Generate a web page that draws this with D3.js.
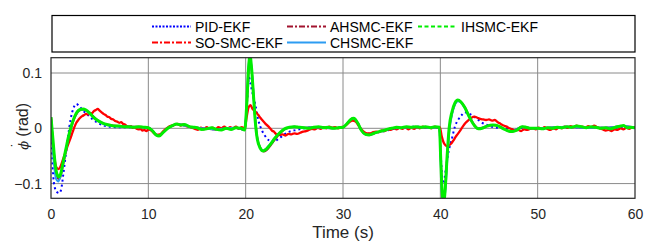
<!DOCTYPE html>
<html>
<head>
<meta charset="utf-8">
<title>phi dot</title>
<style>
  body { margin: 0; background: #fff; }
  text { font-family: "Liberation Sans", Arial, sans-serif; }
</style>
</head>
<body>
<svg class="chart"></svg>
<script src="https://cdn.jsdelivr.net/npm/d3@7"></script>
<script>
// ---- data: [time (s), phi dot (rad)] ----
const xTicks = [0, 10, 20, 30, 40, 50, 60]
const yTicks = [-0.1, 0, 0.1]
const seriesNames = ["PID-EKF", "SO-SMC-EKF", "AHSMC-EKF", "CHSMC-EKF", "IHSMC-EKF"]

const pid = [[0,0.02],[0.1,-0.04],[0.25,-0.09],[0.4,-0.108],[0.6,-0.115],[0.85,-0.117],[1.05,-0.11],[1.25,-0.085],[1.5,-0.05],[1.75,-0.015],[2.0,0.015],[2.3,0.036],[2.6,0.044],[2.9,0.04],[3.3,0.032],[3.8,0.024],[4.3,0.016],[4.8,0.01],[5.4,0.005],[6,0.003],[7,0.002],[8,0.002],[9,0.002],[10,0.001],[10.4,-0.004],[10.8,-0.011],[11.1,-0.013],[11.5,-0.007],[12,0.0],[12.5,0.005],[12.9,0.007],[13.5,0.006],[14.2,0.003],[15,0.001],[16,-0.001],[17,-0.002],[18,0.0],[19,0.0],[19.9,-0.002],[20.15,0.05],[20.35,0.092],[20.5,0.08],[20.75,0.06],[21.0,0.042],[21.3,0.015],[21.65,-0.003],[22.0,-0.014],[22.4,-0.022],[22.8,-0.025],[23.3,-0.02],[23.9,-0.012],[24.5,-0.006],[25.2,-0.003],[26,0.0],[27,0.002],[28,0.001],[29,0.001],[30,0.002],[30.4,0.008],[30.8,0.015],[31.1,0.017],[31.5,0.01],[31.9,-0.003],[32.3,-0.009],[32.8,-0.01],[33.3,-0.008],[34,-0.006],[34.7,-0.003],[35.5,0.0],[36.5,0.002],[37.5,0.003],[38.5,0.002],[39.5,0.002],[39.9,0.002],[40.05,-0.05],[40.2,-0.09],[40.35,-0.1],[40.55,-0.075],[40.85,-0.042],[41.2,-0.018],[41.5,0.003],[41.85,0.016],[42.2,0.024],[42.5,0.029],[42.9,0.027],[43.3,0.023],[43.7,0.018],[44.3,0.01],[44.8,0.006],[45.5,0.002],[46.5,0.0],[47.5,-0.002],[48.5,0.001],[50,0.0],[52,0.001],[54,0.002],[56,0.001],[58,0.001],[60,0.001]]

const soSmc = [[0,0.02],[0.2,-0.03],[0.4,-0.06],[0.6,-0.072],[0.8,-0.074],[1.0,-0.068],[1.2,-0.058],[1.4,-0.048],[1.6,-0.037],[1.8,-0.027],[2.0,-0.018],[2.2,-0.008],[2.4,0.002],[2.6,0.01],[2.8,0.015],[3.0,0.019],[3.2,0.022],[3.4,0.024],[3.6,0.026],[3.8,0.025],[4.0,0.028],[4.2,0.027],[4.4,0.031],[4.6,0.033],[4.8,0.035],[5.0,0.032],[5.2,0.029],[5.4,0.026],[5.6,0.024],[5.8,0.021],[6.0,0.02],[6.2,0.017],[6.4,0.016],[6.6,0.013],[6.8,0.012],[7.0,0.01],[7.2,0.011],[7.4,0.008],[7.6,0.007],[7.8,0.004],[8.0,0.003],[8.2,0.004],[8.4,0.001],[8.6,0.002],[8.8,-0.001],[9.0,-0.002],[9.2,-0.001],[9.4,-0.004],[9.6,-0.003],[9.8,-0.005],[10.0,-0.002],[10.3,-0.004],[10.6,-0.009],[10.9,-0.012],[11.2,-0.011],[11.5,-0.006],[11.8,-0.001],[12.1,0.003],[12.4,0.005],[12.7,0.006],[13.0,0.008],[13.3,0.005],[13.6,0.007],[13.9,0.004],[14.2,0.003],[14.5,0.001],[14.8,-0.001],[15.1,-0.003],[15.4,0.001],[15.7,-0.002],[16.0,0.002],[16.3,-0.001],[16.6,0.001],[16.9,-0.002],[17.2,0.002],[17.5,0.0],[17.8,0.003],[18.1,-0.001],[18.4,0.002],[18.7,0.0],[19.0,0.003],[19.3,-0.001],[19.6,0.002],[19.9,0.0],[20.1,0.02],[20.3,0.038],[20.5,0.042],[20.7,0.035],[20.9,0.032],[21.1,0.028],[21.3,0.024],[21.5,0.019],[21.7,0.015],[21.9,0.011],[22.1,0.007],[22.3,0.004],[22.5,0.0],[22.7,-0.004],[22.9,-0.006],[23.1,-0.01],[23.3,-0.012],[23.5,-0.012],[23.8,-0.011],[24.1,-0.013],[24.4,-0.01],[24.7,-0.011],[25.0,-0.009],[25.3,-0.01],[25.6,-0.008],[25.9,-0.006],[26.2,-0.005],[26.5,-0.003],[26.8,-0.001],[27.1,-0.002],[27.4,0.001],[27.7,-0.001],[28.0,0.002],[28.3,0.0],[28.6,0.003],[28.9,0.001],[29.2,0.002],[29.5,0.0],[29.8,0.002],[30.1,0.003],[30.4,0.007],[30.7,0.012],[31.0,0.014],[31.3,0.012],[31.6,0.005],[31.9,-0.002],[32.2,-0.007],[32.5,-0.009],[32.8,-0.009],[33.1,-0.007],[33.4,-0.006],[33.7,-0.007],[34.0,-0.004],[34.3,-0.005],[34.6,-0.002],[34.9,-0.003],[35.2,0.0],[35.5,-0.002],[35.8,0.001],[36.1,-0.001],[36.4,0.002],[36.7,-0.002],[37.0,0.001],[37.3,-0.001],[37.6,0.002],[37.9,0.0],[38.2,0.003],[38.5,0.001],[38.8,0.002],[39.1,0.0],[39.4,0.003],[39.7,0.001],[39.95,0.002],[40.15,-0.015],[40.35,-0.026],[40.55,-0.031],[40.75,-0.033],[40.95,-0.03],[41.15,-0.027],[41.35,-0.022],[41.55,-0.016],[41.8,-0.01],[42.0,-0.005],[42.3,0.003],[42.6,0.01],[42.9,0.015],[43.2,0.019],[43.5,0.021],[43.8,0.019],[44.1,0.017],[44.4,0.016],[44.7,0.015],[45.0,0.016],[45.3,0.014],[45.6,0.015],[45.9,0.011],[46.2,0.008],[46.5,0.005],[46.8,0.003],[47.1,0.0],[47.4,-0.002],[47.7,-0.004],[48.0,-0.003],[48.3,-0.005],[48.6,-0.002],[48.9,-0.003],[49.2,-0.001],[49.5,0.0],[49.8,-0.002],[50.1,0.001],[50.4,-0.001],[50.7,0.002],[51.0,-0.001],[51.3,-0.003],[51.6,0.0],[51.9,-0.002],[52.2,0.002],[52.5,0.0],[52.8,0.003],[53.1,0.001],[53.4,0.004],[53.7,0.002],[54.0,0.005],[54.3,0.002],[54.6,0.003],[54.9,0.001],[55.2,0.004],[55.5,0.002],[55.8,0.005],[56.1,0.002],[56.4,0.0],[56.7,-0.002],[57.0,-0.004],[57.3,-0.003],[57.6,-0.005],[57.9,-0.002],[58.2,-0.003],[58.5,0.0],[58.8,-0.002],[59.1,0.001],[59.4,-0.001],[59.7,0.002],[60,0.001]]

const ahSmc = [[0,0.02],[0.2,-0.025],[0.4,-0.065],[0.6,-0.085],[0.8,-0.092],[1.0,-0.086],[1.2,-0.07],[1.5,-0.045],[1.8,-0.02],[2.1,0.002],[2.4,0.018],[2.7,0.028],[3.0,0.033],[3.3,0.034],[3.6,0.032],[4.0,0.027],[4.5,0.019],[5.0,0.012],[5.5,0.008],[6.0,0.006],[7.0,0.004],[8,0.003],[9,0.003],[10,0.001],[10.4,-0.004],[10.8,-0.012],[11.1,-0.014],[11.5,-0.008],[12,0.0],[12.5,0.005],[12.9,0.008],[13.5,0.006],[14.2,0.003],[15,0.001],[16,-0.001],[17,-0.002],[18,0.0],[19,0.001],[19.9,-0.003],[20.1,0.035],[20.3,0.1],[20.45,0.125],[20.6,0.108],[20.8,0.062],[21.0,0.014],[21.2,-0.018],[21.5,-0.035],[21.9,-0.042],[22.2,-0.039],[22.6,-0.03],[23.1,-0.018],[23.6,-0.008],[24.1,-0.001],[25,0.003],[26,0.001],[27,0.002],[28,0.001],[29,0.0],[30,0.002],[30.4,0.008],[30.8,0.016],[31.1,0.018],[31.5,0.01],[31.9,-0.004],[32.3,-0.011],[32.7,-0.012],[33.2,-0.009],[34.2,-0.004],[35,0.0],[36,0.001],[37,0.002],[38,0.002],[39,0.001],[39.9,0.002],[40.05,-0.055],[40.2,-0.115],[40.35,-0.13],[40.5,-0.108],[40.7,-0.052],[40.9,-0.004],[41.2,0.027],[41.5,0.044],[41.8,0.05],[42.1,0.048],[42.5,0.039],[43,0.021],[43.5,0.006],[43.9,0.0],[44.8,0.004],[45.4,0.006],[46,0.004],[47,-0.005],[47.4,-0.006],[48.4,0.003],[49.3,0.0],[51,0.001],[53,0.003],[55,0.001],[57,0.001],[58.8,0.004],[60,0.001]]

const chSmc = [[0,0.02],[0.2,-0.04],[0.4,-0.08],[0.6,-0.094],[0.75,-0.096],[0.95,-0.088],[1.2,-0.068],[1.5,-0.042],[1.8,-0.016],[2.1,0.005],[2.4,0.02],[2.7,0.029],[3.0,0.033],[3.3,0.034],[3.6,0.032],[4.0,0.026],[4.5,0.017],[5.0,0.011],[5.5,0.007],[6.0,0.005],[7.0,0.003],[8,0.003],[9,0.002],[10,0.001],[10.4,-0.004],[10.8,-0.012],[11.1,-0.014],[11.5,-0.008],[12,0.0],[12.5,0.005],[12.9,0.008],[13.5,0.006],[14.2,0.003],[15,0.001],[16,-0.001],[17,-0.002],[18,0.0],[19,0.001],[19.9,-0.003],[20.1,0.042],[20.3,0.112],[20.45,0.13],[20.6,0.11],[20.8,0.062],[21.0,0.012],[21.2,-0.019],[21.5,-0.035],[21.8,-0.04],[22.1,-0.037],[22.5,-0.029],[23,-0.017],[23.5,-0.008],[24,-0.001],[25,0.003],[26,0.001],[27,0.002],[28,0.001],[29,0.0],[30,0.002],[30.4,0.008],[30.8,0.016],[31.1,0.018],[31.5,0.01],[31.9,-0.004],[32.3,-0.011],[32.7,-0.012],[33.2,-0.009],[34.2,-0.004],[35,0.0],[36,0.001],[37,0.002],[38,0.002],[39,0.001],[39.9,0.002],[40.05,-0.065],[40.2,-0.125],[40.35,-0.132],[40.5,-0.115],[40.7,-0.06],[40.9,-0.01],[41.2,0.025],[41.5,0.043],[41.8,0.049],[42.1,0.047],[42.5,0.037],[43,0.019],[43.5,0.005],[43.9,-0.001],[44.8,0.004],[45.4,0.006],[46,0.004],[47,-0.005],[47.4,-0.006],[48.4,0.003],[49.3,0.0],[51,0.001],[53,0.003],[55,0.001],[57,0.001],[58.8,0.004],[60,0.001]]

const ihSmc = [[0,0.02],[0.2,-0.02],[0.4,-0.06],[0.6,-0.082],[0.8,-0.088],[1.0,-0.082],[1.2,-0.065],[1.5,-0.04],[1.8,-0.015],[2.1,0.005],[2.4,0.02],[2.7,0.03],[3.0,0.034],[3.3,0.035],[3.6,0.033],[4.0,0.027],[4.5,0.018],[5.0,0.012],[5.5,0.008],[6.0,0.006],[6.5,0.004],[7.0,0.004],[7.5,0.003],[8,0.003],[8.5,0.002],[9,0.003],[9.5,0.002],[10,0.001],[10.4,-0.004],[10.8,-0.012],[11.1,-0.014],[11.5,-0.008],[12,0.0],[12.5,0.005],[12.9,0.008],[13.3,0.006],[13.7,0.007],[14.2,0.003],[14.6,0.002],[15,0.001],[15.5,-0.002],[16,-0.001],[16.5,0.001],[17,-0.002],[17.5,-0.003],[18,0.0],[18.5,-0.002],[19,0.001],[19.5,0.0],[19.9,-0.003],[20.1,0.04],[20.3,0.11],[20.45,0.132],[20.6,0.11],[20.8,0.06],[21.0,0.01],[21.2,-0.02],[21.5,-0.036],[21.8,-0.041],[22.1,-0.038],[22.5,-0.03],[23,-0.018],[23.5,-0.008],[24,-0.001],[24.5,0.002],[25,0.003],[25.5,0.002],[26,0.001],[26.5,0.0],[27,0.002],[27.5,0.003],[28,0.001],[28.5,0.002],[29,0.0],[29.5,0.001],[30,0.002],[30.4,0.008],[30.8,0.016],[31.1,0.018],[31.5,0.01],[31.9,-0.004],[32.3,-0.011],[32.7,-0.012],[33.2,-0.009],[33.7,-0.006],[34.2,-0.004],[34.7,-0.001],[35,0.0],[35.5,0.002],[36,0.001],[36.5,0.003],[37,0.002],[37.5,0.003],[38,0.002],[38.5,0.003],[39,0.001],[39.5,0.003],[39.9,0.002],[40.05,-0.06],[40.2,-0.12],[40.35,-0.135],[40.5,-0.11],[40.7,-0.05],[40.9,0.0],[41.2,0.03],[41.5,0.046],[41.8,0.051],[42.1,0.048],[42.5,0.038],[43,0.02],[43.5,0.005],[43.9,-0.001],[44.3,0.0],[44.8,0.004],[45.4,0.006],[46,0.004],[46.5,-0.001],[47,-0.005],[47.4,-0.006],[47.9,-0.003],[48.4,0.003],[48.8,0.002],[49.3,0.0],[50,0.0],[50.5,-0.001],[51,0.001],[51.5,0.0],[52,0.002],[52.5,0.001],[53,0.003],[53.5,0.002],[54,0.004],[54.5,0.003],[55,0.001],[55.5,0.003],[56,0.002],[56.5,0.0],[57,0.001],[57.5,-0.001],[58,0.002],[58.5,0.004],[58.8,0.005],[59.2,0.001],[59.6,0.002],[60,0.001]]

const seriesData = [pid, soSmc, ahSmc, chSmc, ihSmc]

// ---- styling ----
const colors = ["#0000ff", "#ff0000", "#a2142f", "#2c9cf2", "#00ee00"]
const plotDash = ["2,3", null, null, null, null]
const plotWidth = [2, 2.3, 2, 2, 3]
const legDash = ["2,1.5", "6,2,2,2", "6,2,2,2", null, "4,2.5"]

const width = 646, height = 242
const margin = { left: 51, right: 11, top: 57.7, bottom: 43.7 }

const svg = d3.select(".chart")
    .attr("width", width)
    .attr("height", height)

const x = d3.scaleLinear()
    .domain([0, 60])
    .range([margin.left, width - margin.right])

const y = d3.scaleLinear()
    .domain([-0.1266, 0.1277])
    .range([height - margin.bottom, margin.top])

svg.append("clipPath").attr("id", "clip")
    .append("rect")
    .attr("x", x(0)).attr("y", y(0.1277))
    .attr("width", x(60) - x(0)).attr("height", y(-0.1266) - y(0.1277))

// grid
svg.append("g").selectAll("line").data(xTicks.slice(1, -1)).enter()
    .append("line")
    .attr("x1", d => x(d)).attr("x2", d => x(d))
    .attr("y1", y(0.1277)).attr("y2", y(-0.1266))
    .attr("stroke", "#8a8a8a").attr("stroke-width", 1)
svg.append("g").selectAll("line").data(yTicks).enter()
    .append("line")
    .attr("x1", x(0)).attr("x2", x(60))
    .attr("y1", d => y(d)).attr("y2", d => y(d))
    .attr("stroke", "#8a8a8a").attr("stroke-width", 1)

// curves
const line = d3.line()
    .x(d => x(d[0]))
    .y(d => y(d[1]))
    .curve(d3.curveMonotoneX)

svg.append("g").attr("clip-path", "url(#clip)")
    .selectAll("path").data(seriesData).enter()
    .append("path")
    .attr("d", d => line(d))
    .attr("fill", "none")
    .attr("stroke", (d, i) => colors[i])
    .attr("stroke-width", (d, i) => plotWidth[i])
    .attr("stroke-dasharray", (d, i) => plotDash[i])
    .attr("stroke-linejoin", "round")

// axes
const xAxis = svg.append("g")
    .attr("transform", `translate(0, ${y(-0.1266)})`)
    .call(d3.axisBottom(x).tickValues(xTicks).tickSize(0).tickPadding(11).tickFormat(d3.format("d")))
const yAxis = svg.append("g")
    .attr("transform", `translate(${x(0)}, 0)`)
    .call(d3.axisLeft(y).tickValues(yTicks).tickSize(0).tickPadding(9).tickFormat(d => d === 0 ? "0" : d3.format(".1f")(d)))
for (const ax of [xAxis, yAxis]) {
    ax.select(".domain").remove()
    ax.selectAll("text")
        .style("font-size", "14px")
        .style("fill", "#262626")
        .style("font-family", "'Liberation Sans', Arial, sans-serif")
}

// box
svg.append("rect")
    .attr("x", x(0)).attr("y", y(0.1277))
    .attr("width", x(60) - x(0)).attr("height", y(-0.1266) - y(0.1277))
    .attr("fill", "none").attr("stroke", "#262626").attr("stroke-width", 1.2)

// labels
svg.append("text")
    .attr("x", (x(0) + x(60)) / 2)
    .attr("y", 238)
    .attr("text-anchor", "middle")
    .style("font-size", "17px")
    .style("fill", "#262626")
    .text("Time (s)")

// rotated y label, phi with a dot drawn above it
const yl = svg.append("text")
    .attr("transform", `translate(28, ${y(0) - 2}) rotate(-90)`)
    .attr("text-anchor", "middle")
    .style("font-size", "16px")
    .style("fill", "#262626")
yl.append("tspan").style("font-style", "italic").style("font-family", "'DejaVu Serif', serif").style("font-size", "13px").text("\u03D5")
yl.append("tspan").attr("dx", -6.5).attr("dy", -6).style("font-size", "14px").text("\u02D9")
yl.append("tspan").attr("dx", 1.5).attr("dy", 6).text(" (rad)")

// legend
const legend = svg.append("g")
legend.append("rect")
    .attr("x", 52).attr("y", 15.5)
    .attr("width", 583).attr("height", 36.5)
    .attr("fill", "#fff").attr("stroke", "#000").attr("stroke-width", 1.2)

const legPos = [[152, 26.5], [152, 42.5], [287, 26.5], [287, 42.5], [418, 26.5]]
seriesNames.forEach((name, i) => {
    const [lx, ly] = legPos[i]
    legend.append("line")
        .attr("x1", lx).attr("x2", lx + 39)
        .attr("y1", ly).attr("y2", ly)
        .attr("stroke", colors[i])
        .attr("stroke-width", 2)
        .attr("stroke-dasharray", legDash[i])
    legend.append("text")
        .attr("x", lx + 43).attr("y", ly + 5)
        .style("font-size", "14px")
        .style("fill", "#000")
        .text(name)
})
</script>
</body>
</html>
